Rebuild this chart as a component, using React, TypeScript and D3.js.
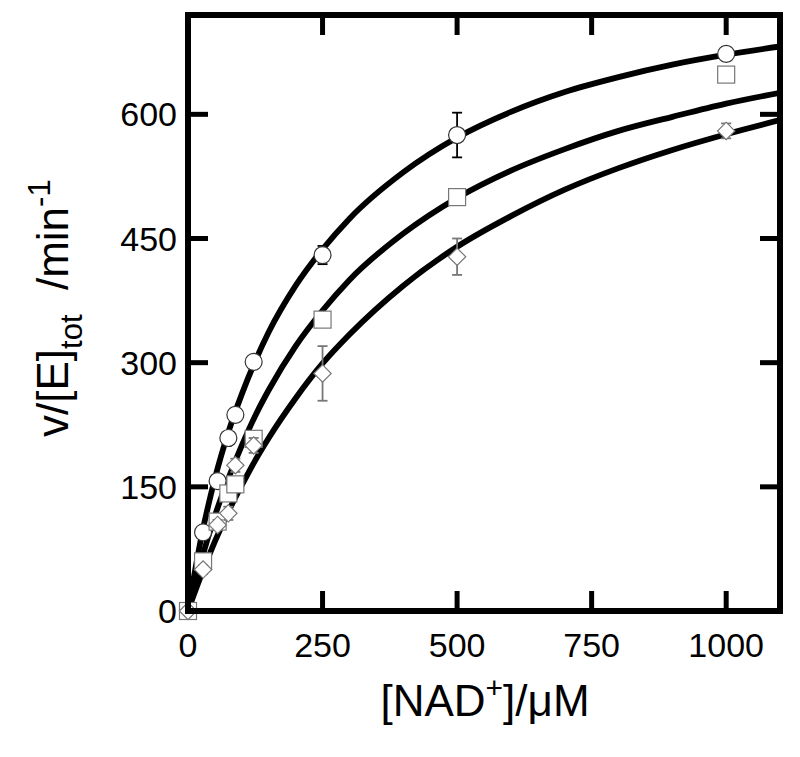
import { useMemo } from "react";
import { scaleLinear, line, curveMonotoneX, symbol, symbolSquare } from "d3";

const W = 800;
const H = 757;

const xTicks = [0, 250, 500, 750, 1000];
const yTicks = [0, 150, 300, 450, 600];

// circles (black error bars)
const circleX = [28, 55, 75, 88, 122, 250, 500, 1000];
const circleV = [95, 157, 209, 237, 301, 430, 575, 673];
const circleErr = [5, 5, 6, 8, 7, 11, 27, 8];

// squares
const squareX = [0, 28, 55, 75, 88, 122, 250, 500, 1000];
const squareV = [0, 60, 108, 142, 153, 208, 352, 500, 648];
const squareErr = [0, 4, 5, 6, 6, 7, 8, 8, 6];

// diamonds
const diamondX = [0, 28, 55, 75, 88, 122, 250, 500, 1000];
const diamondV = [0, 50, 104, 118, 176, 200, 287, 428, 580];
const diamondErr = [0, 5, 6, 8, 8, 9, 33, 22, 9];

// fitted curves
const fitX = [0, 25, 50, 75, 100, 125, 150, 200, 250, 300, 400, 500, 600, 700, 800, 900, 1000, 1100];
const fitCircle = [0, 90, 160, 216, 262, 302, 337, 393, 437, 474, 530, 572, 603, 627, 645, 660, 672, 682];
const fitSquare = [0, 62, 115, 160, 200, 236, 267, 320, 363, 400, 456, 499, 532, 558, 580, 597, 613, 626];
const fitDiamond = [0, 44, 84, 120, 152, 182, 209, 257, 299, 334, 393, 440, 477, 509, 535, 557, 576, 593];

const FONT = "'Liberation Sans', Arial, sans-serif";

export default function App() {
  const x = useMemo(() => scaleLinear().domain([0, 1100]).range([188, 780]), []);
  const y = useMemo(() => scaleLinear().domain([0, 720]).range([611, 15]), []);

  const fitLine = line<number>()
    .x((_, i) => x(fitX[i]))
    .y((v) => y(v))
    .curve(curveMonotoneX);

  const diamondPath = symbol().type(symbolSquare).size(150)()!;

  const [x0, x1] = x.range();
  const [y0, y1] = y.range();
  const tickLen = 20;

  const errBar = (cx: number, v: number, e: number, color: string, key: string) =>
    e > 0 ? (
      <g key={key} stroke={color} strokeWidth={1.8}>
        <line x1={cx} x2={cx} y1={y(v - e)} y2={y(v + e)} />
        <line x1={cx - 5} x2={cx + 5} y1={y(v - e)} y2={y(v - e)} />
        <line x1={cx - 5} x2={cx + 5} y1={y(v + e)} y2={y(v + e)} />
      </g>
    ) : null;

  return (
    <svg width={W} height={H} style={{ position: "absolute", left: 0, top: 0, background: "#fff" }} fontFamily={FONT}>
      <defs>
        <clipPath id="plot">
          <rect x={x0} y={y1} width={x1 - x0} height={y0 - y1} />
        </clipPath>
      </defs>

      <g clipPath="url(#plot)" fill="none" stroke="#000" strokeWidth={5.8}>
        <path d={fitLine(fitCircle)!} />
        <path d={fitLine(fitSquare)!} />
        <path d={fitLine(fitDiamond)!} />
      </g>

      {circleX.map((c, i) => errBar(x(c), circleV[i], circleErr[i], "#000", "ce" + i))}
      {circleX.map((c, i) => (
        <circle key={"c" + i} cx={x(c)} cy={y(circleV[i])} r={8.5} fill="#fff" stroke="#333" strokeWidth={1.2} />
      ))}

      {squareX.map((c, i) => errBar(x(c), squareV[i], squareErr[i], "#666", "se" + i))}
      {squareX.map((c, i) => (
        <rect key={"s" + i} x={x(c) - 8.5} y={y(squareV[i]) - 8.5} width={17} height={17} fill="#fff" stroke="#777" strokeWidth={1.2} />
      ))}

      {diamondX.map((c, i) => errBar(x(c), diamondV[i], diamondErr[i], "#777", "de" + i))}
      {diamondX.map((c, i) => (
        <path key={"d" + i} d={diamondPath} transform={`translate(${x(c)},${y(diamondV[i])}) rotate(45)`} fill="#fff" stroke="#777" strokeWidth={1.2} />
      ))}

      {/* frame and inward ticks on all sides */}
      <g stroke="#000" strokeWidth={5}>
        {xTicks.filter((t) => t > 0).map((t) => (
          <g key={"xt" + t}>
            <line x1={x(t)} x2={x(t)} y1={y0} y2={y0 - tickLen} />
            <line x1={x(t)} x2={x(t)} y1={y1} y2={y1 + tickLen} />
          </g>
        ))}
        {yTicks.filter((t) => t > 0).map((t) => (
          <g key={"yt" + t}>
            <line x1={x0} x2={x0 + tickLen} y1={y(t)} y2={y(t)} />
            <line x1={x1} x2={x1 - tickLen} y1={y(t)} y2={y(t)} />
          </g>
        ))}
      </g>
      <rect x={x0} y={y1} width={x1 - x0} height={y0 - y1} fill="none" stroke="#000" strokeWidth={6} />

      <g fontSize={34} fill="#000">
        {xTicks.map((t) => (
          <text key={"xl" + t} x={x(t)} y={657} textAnchor="middle">{t}</text>
        ))}
        {yTicks.map((t) => (
          <text key={"yl" + t} x={177} y={y(t) + 12} textAnchor="end">{t}</text>
        ))}
      </g>
      <g fontSize={44} fill="#000">
        <text x={485} y={716} textAnchor="middle">
          [NAD<tspan dy={-18} fontSize={30}>+</tspan><tspan dy={18}>]/μM</tspan>
        </text>
        <text transform="translate(68,437) rotate(-90)" textAnchor="start">
          v/[E]<tspan dy={14} fontSize={31}>tot</tspan><tspan dy={-14} xmlSpace="preserve">{"  /min"}</tspan><tspan dy={-18} fontSize={31}>-1</tspan>
        </text>
      </g>
    </svg>
  );
}
